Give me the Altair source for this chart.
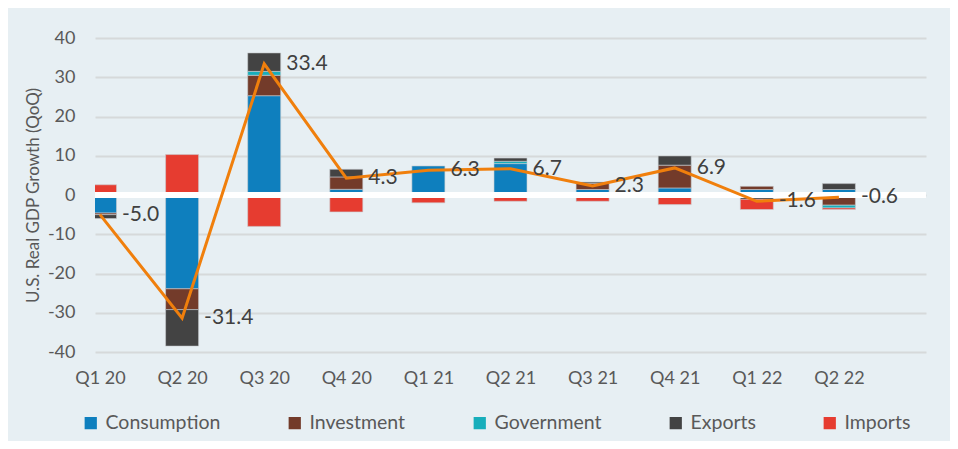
import altair as alt
import pandas as pd

quarters = ["Q1 20", "Q2 20", "Q3 20", "Q4 20", "Q1 21", "Q2 21", "Q3 21", "Q4 21", "Q1 22", "Q2 22"]
consumption = [-4.6, -23.9, 25.3, 1.45, 7.4, 8.0, 1.4, 1.8, 1.4, 1.4]
investment = [-0.4, -5.3, 5.2, 3.15, 0.0, 0.0, 1.6, 5.8, 0.8, -2.6]
government = [0.0, 0.0, 1.0, 0.0, 0.0, 0.6, 0.0, 0.0, 0.0, -0.7]
exports = [-1.0, -9.3, 4.7, 1.95, 0.0, 0.8, 0.3, 2.35, -1.1, 1.5]
imports = [2.6, 10.3, -8.0, -4.3, -2.0, -1.6, -1.6, -2.45, -2.6, -0.4]
gdp = [-5.0, -31.4, 33.4, 4.3, 6.3, 6.7, 2.3, 6.9, -1.6, -0.6]

series_names = ["Consumption", "Investment", "Government", "Exports", "Imports"]
series_vals = [consumption, investment, government, exports, imports]
colors = ["#0E7FBE", "#733B2A", "#17AEBB", "#434343", "#E63C30"]

rows = []
for si, (name, vals) in enumerate(zip(series_names, series_vals)):
    for qi, v in enumerate(vals):
        rows.append({"idx": qi, "quarter": quarters[qi], "series": name, "order": si, "value": v})
bars_df = pd.DataFrame(rows)
bars_df = bars_df[bars_df["value"] != 0]
line_df = pd.DataFrame({"idx": list(range(len(quarters))), "gdp": gdp,
                        "label": [f"{v:.1f}" for v in gdp]})

FONT = "Lato"
label_expr = "[" + ",".join(f"'{q}'" for q in quarters) + "][datum.value]"

xscale = alt.Scale(domain=[0, 10], nice=False, zero=False)
yscale = alt.Scale(domain=[-40, 40], nice=False)

x_axis = alt.Axis(values=list(range(len(quarters))), labelExpr=label_expr, grid=False,
                  domain=False, ticks=False, labelFontSize=18, labelColor="#595959",
                  labelFont=FONT, labelPadding=17, title=None, labelOverlap=False)
y_axis = alt.Axis(values=list(range(-40, 41, 10)), labelExpr="datum.value + ''",
                  grid=True, gridColor="#D6D9DA", labelOverlap=False,
                  gridWidth=2, domain=False, ticks=False, labelFontSize=18,
                  labelColor="#595959", labelFont=FONT, labelPadding=20,
                  title="U.S. Real GDP Growth (QoQ)", titleFont=FONT, titleFontSize=17,
                  titleFontWeight="normal", titleColor="#595959", titleAngle=-90,
                  titleX=-62, titleY=157, titleAlign="center", titleBaseline="middle")

X_IDX = alt.X("idx:Q", scale=xscale, axis=x_axis)

bars = alt.Chart(bars_df).mark_bar(size=33, clip=True, stroke="#C9CDD0", strokeWidth=0.6).encode(
    x=X_IDX,
    y=alt.Y("value:Q", stack="zero", scale=yscale, axis=y_axis),
    color=alt.Color("series:N", scale=alt.Scale(domain=series_names, range=colors),
                    legend=alt.Legend(title=None, orient="none", legendX=-14, legendY=375,
                                      direction="horizontal", columns=5, columnPadding=64,
                                      symbolType="square", symbolSize=150, symbolStrokeWidth=0,
                                      labelFontSize=19.5, labelColor="#595959", labelFont=FONT,
                                      labelOffset=5)),
    order=alt.Order("order:Q"),
)

zero = alt.Chart(line_df).mark_rule(color="white", strokeWidth=6, clip=True).encode(
    x=alt.value(0), x2=alt.value(831), y=alt.Y(datum=0, scale=yscale, axis=y_axis)
)

line = alt.Chart(line_df).mark_line(color="#F07F0C", strokeWidth=3).encode(
    x=X_IDX, y=alt.Y("gdp:Q", scale=yscale, axis=y_axis)
)

labels = alt.Chart(line_df).mark_text(align="left", baseline="middle", dx=22, fontSize=21,
                                       font=FONT, color="#404040").encode(
    x=X_IDX, y=alt.Y("gdp:Q", scale=yscale, axis=y_axis),
    text="label:N"
)

chart = alt.layer(bars, zero, line, labels).properties(
    width=831, height=314,
    autosize=alt.AutoSizeParams(type="none"),
    padding={"left": 87, "top": 30, "right": 24, "bottom": 89},
    background="#E7EFF3",
).configure_view(strokeWidth=0)

chart.save("out.html", embed_options={"renderer": "svg", "actions": False})
